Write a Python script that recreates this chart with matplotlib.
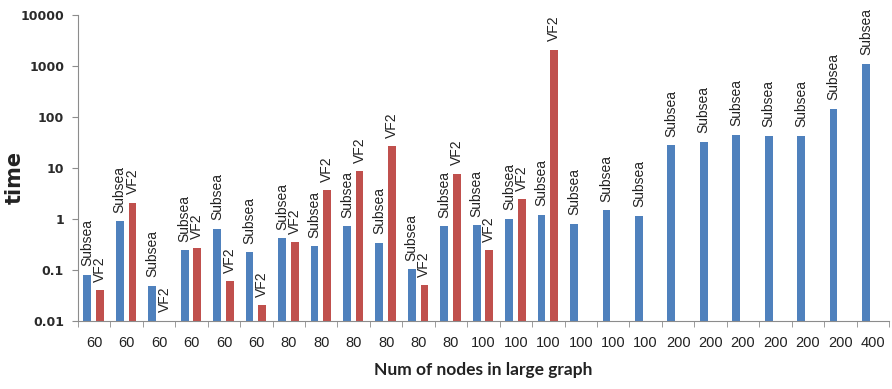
import matplotlib
matplotlib.use("Agg")
import matplotlib.pyplot as plt
import numpy as np

# Data: run time per test case (log scale)
nodes = ["60", "60", "60", "60", "60", "60",
         "80", "80", "80", "80", "80", "80",
         "100", "100", "100", "100", "100", "100",
         "200", "200", "200", "200", "200", "200",
         "400"]
subsea = [0.08, 0.90, 0.049, 0.24, 0.64, 0.22,
          0.42, 0.29, 0.72, 0.34, 0.104, 0.72,
          0.76, 1.0, 1.2, 0.80, 1.46, 1.16,
          27.5, 32.6, 45, 42.7, 42.7, 145,
          1110]
vf2 = [0.040, 2.06, 0.01, 0.27, 0.059, 0.020,
       0.35, 3.6, 8.6, 26.7, 0.050, 7.7,
       0.24, 2.4, 2090, np.nan, np.nan, np.nan,
       np.nan, np.nan, np.nan, np.nan, np.nan, np.nan,
       np.nan]

blue = "#4F81BD"
red = "#C0504D"
axis_grey = "#8c8c8c"

fig = plt.figure(figsize=(8.92, 3.89), dpi=100)
ax = fig.add_axes([0.0874, 0.1756, 0.9092, 0.7858])

x = np.arange(len(nodes))
w = 0.24
ax.set_yscale("log")
ax.bar(x - 0.21, subsea, width=w, color=blue)
ax.bar(x + 0.18, vf2, width=w, color=red)

# series name above each bar
for xi, v in zip(x, subsea):
    ax.annotate("Subsea", (xi - 0.21, v), xytext=(0, 6), textcoords="offset points",
                rotation=90, ha="center", va="bottom", fontsize=10,
                family="Liberation Sans", color="#222222")
for xi, v in zip(x, vf2):
    if np.isnan(v):
        continue
    ax.annotate("VF2", (xi + 0.18, v), xytext=(0, 6), textcoords="offset points",
                rotation=90, ha="center", va="bottom", fontsize=10,
                family="Liberation Sans", color="#222222")

ax.set_xlim(-0.5, len(nodes) - 0.5)
ax.set_ylim(0.01, 10000)
yt = [0.01, 0.1, 1, 10, 100, 1000, 10000]
ax.set_yticks(yt)
ax.set_yticklabels(["0.01", "0.1", "1", "10", "100", "1000", "10000"],
                   fontsize=9, fontweight="semibold", color="#2a2a2a")
ax.yaxis.set_minor_locator(matplotlib.ticker.NullLocator())

ax.set_xticks(x)
ax.set_xticklabels(nodes, fontsize=10.5, family="Liberation Sans", color="#222222")
ax.set_xticks(np.arange(len(nodes) + 1) - 0.5, minor=True)
ax.tick_params(axis="x", which="major", length=0, pad=11)
ax.tick_params(axis="x", which="minor", length=4, color=axis_grey, direction="out")
ax.tick_params(axis="y", length=4, color=axis_grey, pad=6)

for side in ["top", "right"]:
    ax.spines[side].set_visible(False)
for side in ["left", "bottom"]:
    ax.spines[side].set_color(axis_grey)

ax.set_xlabel("Num of nodes in large graph", fontsize=12.5, fontweight="bold",
              family="Lato", color="#222222", labelpad=9)
fig.text(0.016, 0.545, "time", rotation=90, ha="center", va="center",
         fontsize=15, fontweight="bold", family="DejaVu Sans", color="#222222")

fig.savefig("out.png", dpi=100)
